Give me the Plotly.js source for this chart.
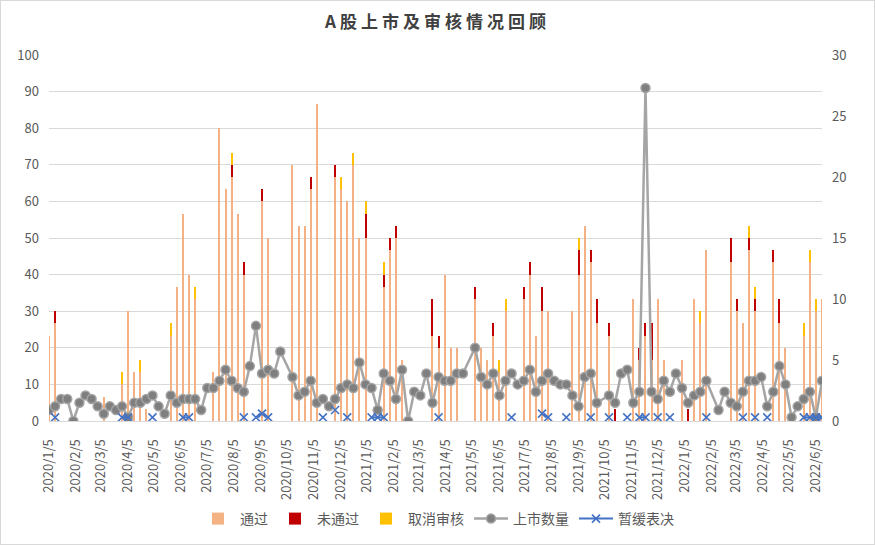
<!DOCTYPE html>
<html>
<head>
<meta charset="utf-8">
<script src="https://cdn.plot.ly/plotly-3.0.1.min.js"></script>
<style>
  html, body { margin: 0; padding: 0; background: #fff; }
  #wrap { position: relative; width: 875px; height: 545px; }
  #chart { width: 875px; height: 545px; }
  #frame { position: absolute; left: 0; top: 0; width: 873px; height: 543px; border: 1px solid #D9D9D9; pointer-events: none; }
</style>
</head>
<body>
<div id="wrap"><div id="chart"></div><div id="frame"></div></div>
<script>
// Weekly rows (holiday weeks without a row are simply absent)
const weeks = [
  '2020-01-05','2020-01-12','2020-01-19','2020-01-26','2020-02-02','2020-02-09','2020-02-16','2020-02-23','2020-03-01','2020-03-08',
  '2020-03-15','2020-03-22','2020-03-29','2020-04-05','2020-04-12','2020-04-19','2020-04-26','2020-05-03','2020-05-10','2020-05-17',
  '2020-05-24','2020-05-31','2020-06-07','2020-06-14','2020-06-21','2020-06-28','2020-07-05','2020-07-12','2020-07-19','2020-07-26',
  '2020-08-02','2020-08-09','2020-08-16','2020-08-23','2020-08-30','2020-09-06','2020-09-13','2020-09-20','2020-09-27','2020-10-11',
  '2020-10-18','2020-10-25','2020-11-01','2020-11-08','2020-11-15','2020-11-22','2020-11-29','2020-12-06','2020-12-13','2020-12-20',
  '2020-12-27','2021-01-03','2021-01-10','2021-01-17','2021-01-24','2021-01-31','2021-02-07','2021-02-14','2021-02-21','2021-02-28',
  '2021-03-07','2021-03-14','2021-03-21','2021-03-28','2021-04-04','2021-04-11','2021-04-18','2021-04-25','2021-05-09','2021-05-16',
  '2021-05-23','2021-05-30','2021-06-06','2021-06-13','2021-06-20','2021-06-27','2021-07-04','2021-07-11','2021-07-18','2021-07-25',
  '2021-08-01','2021-08-08','2021-08-15','2021-08-22','2021-08-29','2021-09-05','2021-09-12','2021-09-19','2021-09-26','2021-10-10',
  '2021-10-17','2021-10-24','2021-10-31','2021-11-07','2021-11-14','2021-11-21','2021-11-28','2021-12-05','2021-12-12','2021-12-19',
  '2021-12-26','2022-01-02','2022-01-09','2022-01-16','2022-01-23','2022-01-30','2022-02-13','2022-02-20','2022-02-27','2022-03-06',
  '2022-03-13','2022-03-20','2022-03-27','2022-04-03','2022-04-10','2022-04-17','2022-04-24','2022-05-01','2022-05-08','2022-05-15',
  '2022-05-22','2022-05-29','2022-06-05','2022-06-12'
];

// 通过 (right axis)
const passed = [
  7,8,0,0,0,0,0,0,0,2,
  0,0,3,9,4,4,1,0,0,0,
  7,11,17,12,10,0,0,4,24,19,
  20,17,12,0,0,18,15,0,0,21,
  16,16,19,26,0,0,20,19,18,21,
  15,15,0,0,11,14,15,5,0,0,
  0,0,7,6,12,6,6,0,10,6,
  5,7,4,9,0,0,10,12,7,9,
  9,0,0,0,9,12,16,13,8,7,
  0,0,0,10,5,7,5,10,5,0,
  0,5,0,10,8,14,0,0,13,9,
  8,14,9,0,0,13,8,6,0,0,
  7,13,9,10
];
// 未通过 (right axis)
const rejected = [
  0,1,0,0,0,0,0,0,0,0,
  0,0,0,0,0,0,0,0,0,0,
  0,0,0,0,0,0,0,0,0,0,
  1,0,1,0,0,1,0,0,0,0,
  0,0,1,0,0,0,1,0,0,0,
  0,2,0,0,1,1,1,0,0,0,
  0,0,3,1,0,0,0,0,1,0,
  0,1,0,0,0,0,1,1,0,2,
  0,0,0,0,0,2,0,1,2,1,
  1,0,0,0,1,1,3,0,0,0,
  0,0,1,0,0,0,0,0,2,1,
  0,1,1,0,0,1,2,0,0,0,
  0,0,0,0
];
// 取消审核 (right axis)
const cancelled = [
  0,0,0,0,0,0,0,0,0,0,
  0,0,1,0,0,1,0,0,0,0,
  1,0,0,0,1,0,0,0,0,0,
  1,0,0,0,0,0,0,0,0,0,
  0,0,0,0,0,0,0,1,0,1,
  0,1,0,0,1,0,0,0,0,0,
  0,0,0,0,0,0,0,0,0,0,
  0,0,1,1,0,0,0,0,0,0,
  0,0,0,0,0,1,0,0,0,0,
  0,0,0,0,0,0,0,0,0,0,
  0,0,0,0,1,0,0,0,0,0,
  0,1,1,0,0,0,0,0,0,0,
  1,1,1,0
];
// 上市数量 (left axis)
const listed = [
  3,4,6,6,0,5,7,6,4,2,
  4,3,4,1,5,5,6,7,4,2,
  7,5,6,6,6,3,9,9,11,14,
  11,9,8,15,26,13,14,13,19,12,
  7,8,11,5,6,4,6,9,10,9,
  16,10,9,3,13,11,6,14,0,8,
  7,13,5,12,11,11,13,13,20,12,
  10,13,7,11,13,10,11,14,8,11,
  13,11,10,10,7,4,12,13,5,7,
  5,13,14,5,8,91,8,6,11,8,
  13,9,5,7,8,11,3,8,5,4,
  8,11,11,12,4,8,15,10,1,4,
  6,8,1,11
];
// 暂缓表决 (left axis)
const deferred = [
  null,1,null,null,null,null,null,null,null,null,
  null,null,1,1,null,null,null,1,null,null,
  null,null,1,1,null,null,null,null,null,null,
  null,null,1,null,1,2,1,null,null,null,
  null,null,null,null,1,null,3,null,1,null,
  null,null,1,1,1,null,null,null,null,null,
  null,null,null,1,null,null,null,null,null,null,
  null,null,null,null,1,null,null,null,null,2,
  1,null,null,1,null,null,null,1,null,1,
  null,null,1,null,1,1,null,1,null,1,
  null,null,null,null,null,1,null,null,null,null,
  1,null,1,null,1,null,null,null,null,null,
  1,1,1,1
];

const tickLabels = [
  '2020/1/5','2020/2/5','2020/3/5','2020/4/5','2020/5/5','2020/6/5','2020/7/5','2020/8/5','2020/9/5','2020/10/5',
  '2020/11/5','2020/12/5','2021/1/5','2021/2/5','2021/3/5','2021/4/5','2021/5/5','2021/6/5','2021/7/5','2021/8/5',
  '2021/9/5','2021/10/5','2021/11/5','2021/12/5','2022/1/5','2022/2/5','2022/3/5','2022/4/5','2022/5/5','2022/6/5'
];
const seriesNames = ['通过', '未通过', '取消审核', '上市数量', '暂缓表决'];

const toIso = s => { const p = s.split('/'); return p[0] + '-' + p[1].padStart(2, '0') + '-' + p[2].padStart(2, '0'); };
const tickVals = tickLabels.map(toIso);

const FONT = '"Noto Sans CJK SC", "Noto Sans", sans-serif';
const GREY = '#595959';
const DAY = 86400000;
const barW = 2.3 * DAY;

const traces = [
  { type: 'bar', name: seriesNames[0], x: weeks, y: passed, yaxis: 'y', width: barW,
    marker: { color: '#F4B183', line: { width: 0 } }, hoverinfo: 'x+y+name' },
  { type: 'bar', name: seriesNames[1], x: weeks, y: rejected, yaxis: 'y', width: barW,
    marker: { color: '#C00000', line: { width: 0 } }, hoverinfo: 'x+y+name' },
  { type: 'bar', name: seriesNames[2], x: weeks, y: cancelled, yaxis: 'y', width: barW,
    marker: { color: '#FFC000', line: { width: 0 } }, hoverinfo: 'x+y+name' },
  { type: 'scatter', mode: 'lines+markers', name: seriesNames[3], x: weeks, y: listed, yaxis: 'y2',
    line: { color: '#A5A5A5', width: 2.5 },
    marker: { symbol: 'circle', size: 9, color: '#7F7F7F', line: { color: '#A5A5A5', width: 1.5 } } },
  { type: 'scatter', mode: 'lines+markers', name: seriesNames[4], x: weeks, y: deferred, yaxis: 'y2',
    connectgaps: false,
    line: { color: '#4472C4', width: 2 },
    marker: { symbol: 'x-thin-open', size: 8, color: '#4472C4', line: { color: '#4472C4', width: 1.6 } } }
];

const layout = {
  width: 875, height: 545,
  margin: { l: 49, r: 53, t: 55, b: 124 },
  paper_bgcolor: '#FFFFFF', plot_bgcolor: '#FFFFFF',
  barmode: 'stack', bargap: 0,
  font: { family: FONT, color: GREY, size: 13 },
  title: { text: 'A股上市及审核情况回顾', x: 0.5, xanchor: 'center', xref: 'container',
           y: 1 - 22 / 545, yanchor: 'middle', yref: 'container',
           font: { family: FONT, size: 17, color: '#404040', weight: 'bold' } },
  xaxis: {
    type: 'date', range: ['2020-01-05', '2022-06-12'],
    tickmode: 'array', tickvals: tickVals, ticktext: tickLabels, tickangle: -90,
    ticks: '', ticklabelstandoff: 12,
    showgrid: false, zeroline: false, showline: true, linecolor: '#D9D9D9', linewidth: 1,
    tickfont: { family: FONT, size: 13, color: GREY }
  },
  yaxis: {
    side: 'right', range: [0, 30], dtick: 5, tick0: 0,
    showgrid: false, zeroline: false, showline: false, ticks: '', ticklabelstandoff: 9,
    tickfont: { family: FONT, size: 13, color: GREY }
  },
  yaxis2: {
    overlaying: 'y', side: 'left', range: [0, 100], dtick: 10, tick0: 0,
    showgrid: true, gridcolor: '#D9D9D9', gridwidth: 1,
    zeroline: false, showline: false, ticks: '', ticklabelstandoff: 9,
    tickfont: { family: FONT, size: 13, color: GREY }
  },
  legend: {
    orientation: 'h', x: 0.5, xanchor: 'center', xref: 'container',
    y: 26 / 545, yanchor: 'middle', yref: 'container',
    traceorder: 'normal', itemwidth: 34,
    font: { family: FONT, size: 14, color: GREY }, bgcolor: 'rgba(0,0,0,0)'
  },
  showlegend: true
};

Plotly.newPlot('chart', traces, layout, { staticPlot: true, displayModeBar: false }).then(() => {
  document.querySelectorAll('.gtitle').forEach(t => { t.style.letterSpacing = '4px'; });
});
</script>
</body>
</html>
